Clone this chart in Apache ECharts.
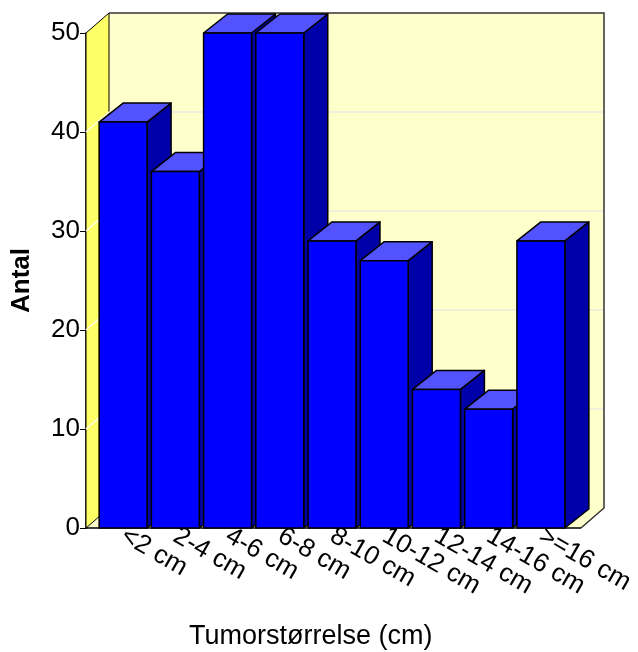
<!DOCTYPE html>
<html>
<head>
<meta charset="utf-8">
<style>html,body{margin:0;padding:0;background:#fff;}#chart{width:638px;height:652px;}</style>
<script src="https://cdn.jsdelivr.net/npm/echarts@6/dist/echarts.min.js"></script>
</head>
<body>
<div id="chart"></div>
<script>
// ---- data ----
const categories = ['<2 cm', '2-4 cm', '4-6 cm', '6-8 cm', '8-10 cm', '10-12 cm', '12-14 cm', '14-16 cm', '>=16 cm'];
const counts = [41, 36, 50, 50, 29, 27, 14, 12, 29];
const yTicks = [0, 10, 20, 30, 40, 50];
const xTitle = 'Tumorstørrelse (cm)';
const yTitle = 'Antal';

// ---- style ----
const FONT = 'Liberation Sans';
const WALL_DX = 23, WALL_DY = -20;   // depth of the 3D box
const BAR_DX = 24, BAR_DY = -19;     // depth of the bars
const AXIS_PAD_L = 11, AXIS_PAD_R = 14;

const chart = echarts.init(document.getElementById('chart'), null, {renderer: 'canvas'});

function renderWalls(params, api) {
  const cs = params.coordSys;
  const L = cs.x - AXIS_PAD_L, R = cs.x + cs.width + AXIS_PAD_R;
  const T = api.coord([0, yTicks[yTicks.length - 1]])[1];
  const B = api.coord([0, yTicks[0]])[1];
  const dx = WALL_DX, dy = WALL_DY;
  const children = [];
  children.push({type: 'rect', shape: {x: L + dx, y: T + dy, width: R - L, height: B - T},
    style: {fill: '#FFFFCC', stroke: null}});
  children.push({type: 'polygon', shape: {points: [[L, B], [L + dx, B + dy], [R + dx, B + dy], [R, B]]},
    style: {fill: '#FFFFCC', stroke: null}});
  children.push({type: 'polygon', shape: {points: [[L, T], [L + dx, T + dy], [L + dx, B + dy], [L, B]]},
    style: {fill: '#FFFF66', stroke: '#000', lineWidth: 1}});
  yTicks.forEach(function (v) {
    if (v === yTicks[0] || v === yTicks[yTicks.length - 1]) return;
    const y = api.coord([0, v])[1];
    children.push({type: 'line', shape: {x1: L + dx, y1: y + dy, x2: R + dx, y2: y + dy},
      style: {stroke: '#EAEAE0', lineWidth: 1.5}});
    children.push({type: 'line', shape: {x1: L, y1: y, x2: L + dx, y2: y + dy},
      style: {stroke: '#FFFFE8', lineWidth: 1.5}});
  });
  children.push({type: 'polyline', shape: {points: [[L + dx, T + dy], [R + dx, T + dy], [R + dx, B + dy], [R, B]]},
    style: {stroke: '#333', lineWidth: 1.5, fill: null}});
  children.push({type: 'line', shape: {x1: L, y1: B, x2: R, y2: B},
    style: {stroke: '#000', lineWidth: 1.5}});
  return {type: 'group', children: children};
}

function renderBar(params, api) {
  const top = api.coord([api.value(0), api.value(1)]);
  const base = api.coord([api.value(0), 0]);
  const w = api.size([1, 0])[0] * 0.918;
  const l = top[0] - w / 2, r = top[0] + w / 2, t = top[1], b = base[1];
  const dx = BAR_DX, dy = BAR_DY;
  const st = {stroke: '#000', lineWidth: 1.5, lineJoin: 'round'};
  return {type: 'group', children: [
    {type: 'polygon', shape: {points: [[r, t], [r + dx, t + dy], [r + dx, b + dy], [r, b]]},
      style: Object.assign({fill: '#0000A8'}, st)},
    {type: 'polygon', shape: {points: [[l, t], [l + dx, t + dy], [r + dx, t + dy], [r, t]]},
      style: Object.assign({fill: '#5252FF'}, st)},
    {type: 'rect', shape: {x: l, y: t, width: w, height: b - t},
      style: Object.assign({fill: '#0000FF'}, st)}
  ]};
}

chart.setOption({
  backgroundColor: '#ffffff',
  animation: false,
  title: {
    text: xTitle, left: 189, top: 623, padding: 0,
    textStyle: {fontFamily: FONT, fontSize: 27, fontWeight: 'normal', color: '#000'}
  },
  grid: {left: 97, right: 71, top: 33, bottom: 124, containLabel: false},
  xAxis: {
    type: 'category', data: categories,
    axisLine: {show: false},
    axisTick: {show: true, inside: true, length: 4, lineStyle: {color: '#888'}},
    axisLabel: {rotate: -30, margin: 6, fontFamily: FONT, fontSize: 26, color: '#000', interval: 0}
  },
  yAxis: {
    type: 'value', min: 0, max: 50, interval: 10, offset: AXIS_PAD_L,
    name: yTitle, nameLocation: 'middle', nameGap: 51, nameRotate: 90,
    nameTextStyle: {fontFamily: FONT, fontSize: 26, fontWeight: 'bold', color: '#000'},
    axisLine: {show: true, lineStyle: {color: '#000', width: 1.5}},
    axisTick: {show: true, length: 6, lineStyle: {color: '#000'}},
    axisLabel: {margin: 6, fontFamily: FONT, fontSize: 26, color: '#000'},
    splitLine: {show: false}
  },
  series: [
    {type: 'custom', z: 1, renderItem: renderWalls, data: [[0, 0]], silent: true, clip: false},
    {type: 'custom', z: 2, renderItem: renderBar, clip: false,
      data: counts.map(function (v, i) { return [i, v]; })}
  ]
});
</script>
</body>
</html>
